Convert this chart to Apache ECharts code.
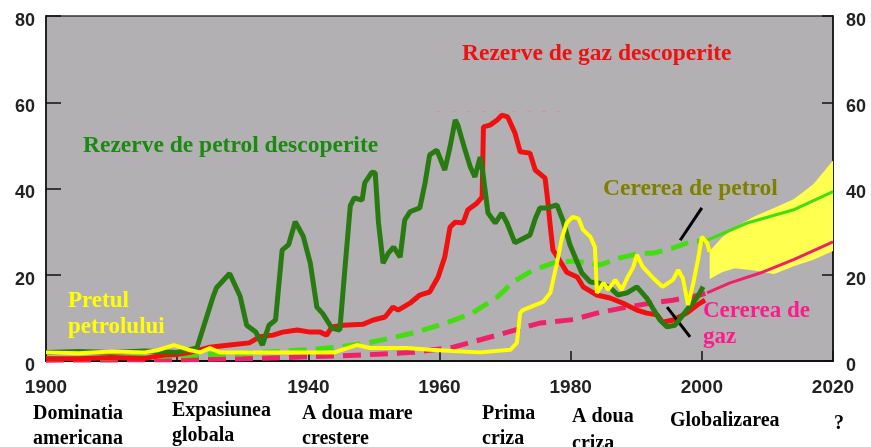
<!DOCTYPE html>
<html>
<head>
<meta charset="utf-8">
<script src="https://cdn.jsdelivr.net/npm/echarts@6/dist/echarts.min.js"></script>
<style>
  html, body { margin: 0; padding: 0; background: #fff; }
  #chart { width: 871px; height: 447px; }
</style>
</head>
<body>
<div id="chart"></div>
<script>
const chart = echarts.init(document.getElementById('chart'));

// Rezerve de petrol descoperite
const oilResYears = [1900, 1905, 1910, 1915, 1920, 1923, 1925.5, 1926, 1928, 1929.6, 1930.6, 1932, 1933, 1934, 1935, 1936, 1937, 1938, 1939.2, 1940.3, 1941.3, 1942.2, 1943.6, 1944.8, 1945.6, 1946.4, 1947, 1948.2, 1948.6, 1949.7, 1950.2, 1950.7, 1951.4, 1952.2, 1953, 1954, 1954.7, 1955.5, 1957, 1957.8, 1958.5, 1959.6, 1960.8, 1961.6, 1962.4, 1962.8, 1963.9, 1964.7, 1965.4, 1966.2, 1966.6, 1967.4, 1968.5, 1969.5, 1970.3, 1971.5, 1973.8, 1974.6, 1975.3, 1976.4, 1977.9, 1978.8, 1979.9, 1981.7, 1983, 1984.2, 1986, 1987.2, 1988.6, 1990.1, 1991.6, 1993.6, 1994.7, 1995.9, 1997.7, 1999.3, 2000.2];
const oilResVals = [2, 2.2, 2, 2.3, 2, 3, 15, 17, 20.3, 15, 8.3, 6.7, 3.7, 8.3, 9.5, 25.7, 27, 32.3, 29, 22.7, 12.5, 11, 7.6, 7.2, 21.8, 36, 37.8, 37.3, 41.3, 43.8, 43.6, 32, 22.7, 25, 26.4, 24.1, 32.7, 34.6, 35.5, 41.3, 47.8, 48.9, 44.3, 49.6, 55.9, 54.7, 48.9, 45, 42.7, 47.3, 43.8, 34.3, 32, 34.3, 32, 27.4, 29.2, 33, 35.5, 35.5, 36.2, 32.7, 26.9, 20.4, 18.3, 18.1, 17, 15.3, 15.8, 17.2, 14.6, 9.5, 7.9, 8.3, 11.8, 14.8, 17.2];

// Rezerve de gaz descoperite
const gasResYears = [1900, 1905, 1910, 1915, 1918, 1920, 1922, 1925, 1928, 1931, 1932.6, 1934.6, 1936.1, 1938.3, 1940.3, 1941.8, 1942.8, 1943.6, 1945.3, 1948.3, 1949.9, 1951.7, 1952.9, 1953.7, 1955.5, 1957, 1958.5, 1959.8, 1960.8, 1961.6, 1962.4, 1963.6, 1964.3, 1965.7, 1966.5, 1966.7, 1967.7, 1968.8, 1969.5, 1970.4, 1971.5, 1972.3, 1973.8, 1974.6, 1976.1, 1976.5, 1976.9, 1977.3, 1978, 1979.4, 1981, 1981.9, 1984, 1986, 1988, 1990.1, 1991.6, 1993.2, 1994, 1995.6, 1997.7, 1999.3, 2000.5];
const gasResVals = [0.5, 0.5, 0.8, 0.6, 1.4, 1.5, 2, 3.2, 3.7, 4.2, 5.6, 6, 6.7, 7.2, 6.7, 6.7, 6, 7.9, 8.3, 8.5, 9.5, 10.2, 12.5, 11.8, 13.4, 15.3, 16, 19.5, 24.1, 31, 32.2, 32, 35, 36.6, 38, 54.3, 54.7, 55.9, 57, 56.6, 52.9, 48.5, 48.2, 44.3, 42.4, 37.3, 31.1, 25.7, 24.1, 20.6, 19.5, 17.2, 15.3, 14.6, 13.4, 11.8, 11.1, 10.7, 9, 9.5, 11.1, 13, 14.1];

// Pretul petrolului
const priceYears = [1900, 1905, 1910, 1915, 1917, 1919.5, 1922, 1923.5, 1925, 1926.5, 1930, 1935, 1940, 1944, 1945.9, 1947.4, 1949.4, 1955, 1958.6, 1962, 1966.2, 1970.8, 1971.8, 1972.3, 1972.7, 1975.8, 1976.9, 1977.9, 1978.7, 1979.4, 1980.3, 1981.2, 1981.9, 1983, 1983.7, 1984, 1985, 1985.7, 1986.8, 1987.8, 1988.7, 1989.5, 1990.1, 1991, 1992.6, 1994, 1995.6, 1996.4, 1997.1, 1997.9, 1998.7, 1999.4, 2000, 2000.8, 2001.2];
const priceVals = [2, 1.8, 2.2, 2, 2.5, 3.7, 2.5, 2, 3, 2, 2, 2, 2, 2, 3, 3.7, 3, 3, 2.6, 2.3, 2, 2.6, 4.2, 11.1, 11.8, 13.7, 15.8, 22.7, 28.8, 32, 33.4, 33, 30.4, 28.8, 26.4, 15.8, 18.1, 16.5, 18.8, 16.5, 19.5, 21.6, 24.6, 21.8, 19.2, 17.2, 18.8, 21.1, 19.2, 13, 18.1, 23.4, 28.8, 27.4, 25.3];

// prognoza pretului (banda galbena)
const bandYears = [2001.2, 2003, 2005, 2008, 2011, 2014, 2017, 2020];
const bandLow = [19, 20.5, 21.5, 21, 20.2, 22, 23.5, 25.5];
const bandHigh = [25.5, 28.5, 31, 33.5, 35.5, 37.5, 41, 46.5];

// Cererea de petrol
const oilDemYears = [1900, 1910, 1920, 1930, 1940, 1945, 1949, 1952.5, 1956, 1961, 1965, 1968.8, 1971.2, 1974.3, 1977.3, 1980.4, 1984.5, 1987.5, 1990.6, 1992.6, 1995.6, 1998.2, 2000.8];
const oilDemVals = [0.5, 0.7, 1.2, 1.8, 2.6, 3.3, 4.2, 5.3, 6.5, 8.8, 11.1, 14.8, 18.3, 21.1, 22.7, 23.2, 22.3, 23.9, 25, 25, 26.2, 27.6, 28];
const oilProjYears = [2000.8, 2006.9, 2013.9, 2020];
const oilProjVals = [28, 32, 35, 39.3];

// Cererea de gaz
const gasDemYears = [1900, 1920, 1930, 1940.7, 1948.4, 1956, 1962.1, 1968.8, 1975.3, 1980.4, 1984, 1988.6, 1992.1, 1995.6, 1999.7, 2000.8];
const gasDemVals = [0.2, 0.3, 0.5, 1, 1.4, 2, 3.2, 6, 8.8, 9.6, 11.1, 12.5, 13.4, 14.1, 15.3, 15.8];
const gasProjYears = [2000.8, 2004.3, 2008.9, 2014, 2020];
const gasProjVals = [15.8, 18.1, 20.4, 23.5, 27.6];

const yTicks = [0, 20, 40, 60, 80];

const pairs = (xs, ys) => xs.map((x, i) => [x, ys[i]]);

const serif = '"Liberation Serif", "Times New Roman", serif';
const sans = '"Liberation Sans", Arial, sans-serif';

function label(text, x, y, color, size) {
  return {
    type: 'text', left: x, top: y - size / 2 - 1,
    style: { text, fill: color, font: `bold ${size}px ${serif}` }
  };
}

const lineBase = { type: 'line', symbol: 'none', smooth: false, silent: true };

const option = {
  animation: false,
  backgroundColor: '#ffffff',
  grid: {
    left: 46, right: 38, top: 16, bottom: 86,
    show: true, backgroundColor: '#b3b0b3', borderColor: '#333', borderWidth: 1.5
  },
  xAxis: {
    type: 'value', min: 1900, max: 2020, interval: 20,
    axisLine: { lineStyle: { color: '#111', width: 2 } },
    axisTick: { inside: true, length: 10, lineStyle: { color: '#111', width: 1.5 } },
    splitLine: { show: false },
    axisLabel: {
      margin: 17, color: '#222', fontSize: 19, fontWeight: 'bold', fontFamily: sans,
      formatter: v => String(v)
    }
  },
  yAxis: [0, 1].map(i => ({
    type: 'value', min: yTicks[0], max: yTicks[yTicks.length - 1], interval: 20,
    position: i === 0 ? 'left' : 'right',
    axisLine: { show: true, lineStyle: { color: '#111', width: 1.5 } },
    axisTick: { show: true, inside: true, length: i === 0 ? 15 : 11, lineStyle: { color: '#111', width: 1.5 } },
    splitLine: { show: false },
    axisLabel: {
      margin: i === 0 ? 11 : 13, color: '#222', fontSize: 18, fontWeight: 'bold', fontFamily: sans,
      verticalAlign: 'top', lineHeight: 10
    }
  })),
  series: [
    {
      type: 'custom', name: 'banda', z: 1, silent: true,
      data: bandYears.map((y, i) => [y, bandLow[i], bandHigh[i]]),
      encode: { x: 0, y: [1, 2] },
      renderItem: (params, api) => {
        if (params.dataIndex !== 0) return null;
        const top = bandYears.map((y, i) => api.coord([y, bandHigh[i]]));
        const bot = bandYears.map((y, i) => api.coord([y, bandLow[i]])).reverse();
        return {
          type: 'polygon',
          shape: { points: top.concat(bot) },
          style: { fill: '#ffff50' }
        };
      }
    },
    {
      ...lineBase, name: 'Cererea de gaz', z: 2,
      data: pairs(gasDemYears, gasDemVals),
      lineStyle: { color: '#ee2266', width: 5, type: [18, 9], cap: 'butt' }
    },
    {
      ...lineBase, name: 'Cererea de gaz prognoza', z: 2,
      data: pairs(gasProjYears, gasProjVals),
      lineStyle: { color: '#ee2266', width: 3 },
      markLine: {
        silent: true, symbol: 'none', label: { show: false },
        lineStyle: { color: '#000', width: 3, type: 'solid' },
        data: [[{ coord: [1994.7, 12.5] }, { coord: [1998.2, 5.6] }]]
      }
    },
    {
      ...lineBase, name: 'Cererea de petrol', z: 3,
      data: pairs(oilDemYears, oilDemVals),
      lineStyle: { color: '#44dd11', width: 5, type: [18, 9], cap: 'butt' }
    },
    {
      ...lineBase, name: 'Cererea de petrol prognoza', z: 3,
      data: pairs(oilProjYears, oilProjVals),
      lineStyle: { color: '#44dd11', width: 3 },
      markLine: {
        silent: true, symbol: 'none', label: { show: false },
        lineStyle: { color: '#000', width: 3, type: 'solid' },
        data: [[{ coord: [2000, 35.5] }, { coord: [1996.7, 28] }]]
      }
    },
    {
      ...lineBase, name: 'Rezerve de gaz descoperite', z: 4,
      data: pairs(gasResYears, gasResVals),
      lineStyle: { color: '#f01010', width: 5 },
      markLine: {
        silent: true, symbol: 'none', label: { show: false },
        lineStyle: { color: '#e08a8a', width: 1, type: [4, 11], opacity: 0.7 },
        data: [[{ coord: [1959.6, 58] }, { coord: [1978.5, 58] }]]
      }
    },
    {
      ...lineBase, name: 'Rezerve de petrol descoperite', z: 5,
      data: pairs(oilResYears, oilResVals),
      lineStyle: { color: '#2a7a12', width: 5 }
    },
    {
      ...lineBase, name: 'Pretul petrolului', z: 6,
      data: pairs(priceYears, priceVals),
      lineStyle: { color: '#ffff00', width: 4 }
    }
  ],
  graphic: [
    label('Rezerve de petrol descoperite', 83, 147, '#1a8a10', 23.5),
    label('Rezerve de gaz descoperite', 462, 55, '#ee1111', 23.5),
    label('Cererea de petrol', 603, 190, '#7f7f00', 23.5),
    label('Cererea de', 703, 312, '#ff1a8c', 23),
    label('gaz', 703, 338, '#ff1a8c', 23),
    label('Pretul', 68, 302, '#ffff00', 23),
    label('petrolului', 68, 328, '#ffff00', 23),
    label('Dominatia', 33, 415, '#000', 20),
    label('americana', 33, 440, '#000', 20),
    label('Expasiunea', 172, 412, '#000', 20),
    label('globala', 172, 437, '#000', 20),
    label('A doua mare', 302, 415, '#000', 20),
    label('crestere', 302, 440, '#000', 20),
    label('Prima', 482, 415, '#000', 20),
    label('criza', 482, 440, '#000', 20),
    label('A doua', 572, 418, '#000', 20),
    label('criza', 572, 445, '#000', 20),
    label('Globalizarea', 670, 422, '#000', 20),
    label('?', 834, 425, '#000', 20)
  ]
};

chart.setOption(option);
window.addEventListener('resize', () => chart.resize());
</script>
</body>
</html>
